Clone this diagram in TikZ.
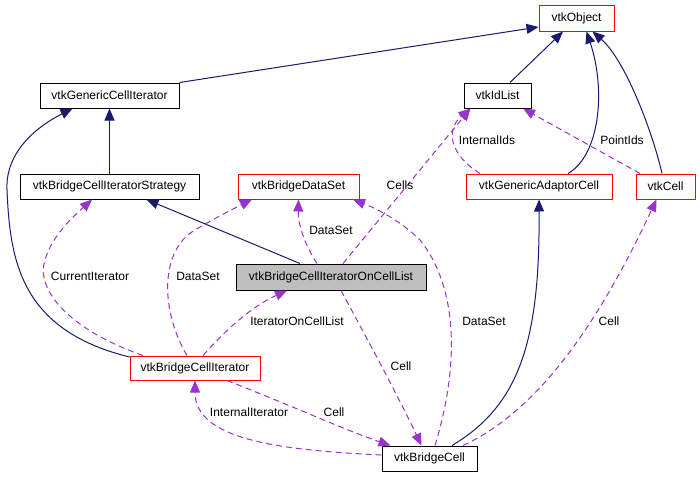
\documentclass[tikz,border=0pt]{standalone}
\usepackage{fontspec}
\setmainfont{Liberation Sans}
\usetikzlibrary{arrows.meta}
\definecolor{navy}{HTML}{191970}
\definecolor{purp}{HTML}{9A32CD}
\definecolor{redb}{HTML}{FF0000}
\definecolor{grayf}{HTML}{BFBFBF}
\begin{document}
\begin{tikzpicture}[x=1pt,y=-1pt,
  box/.style={draw=black,line width=1pt,inner sep=0pt,minimum height=25pt,font=\fontsize{12}{14}\selectfont},
  redbox/.style={box,draw=redb},
  inh/.style={draw=navy,line width=1pt,-{Triangle[length=12pt,width=10pt]}},
  usearrow/.style={draw=purp,line width=1pt,dash pattern=on 6pt off 4pt,-{Triangle[length=12pt,width=10pt]}},
  lbl/.style={font=\fontsize{12}{14}\selectfont,inner sep=0pt}]
\useasboundingbox[fill=white] (0,0) rectangle (700,477);

% nodes
\node[redbox,minimum width=75pt,minimum height=26pt] (obj) at (576.5,18) {vtkObject};
\node[box,minimum width=139pt] (gci) at (109.5,95.5) {vtkGenericCellIterator};
\node[box,minimum width=67pt] (idl) at (497.5,95.5) {vtkIdList};
\node[box,minimum width=179pt] (strat) at (109.5,186.5) {vtkBridgeCellIteratorStrategy};
\node[redbox,minimum width=121pt] (bds) at (298.5,186.5) {vtkBridgeDataSet};
\node[redbox,minimum width=146pt] (gac) at (539,186.5) {vtkGenericAdaptorCell};
\node[redbox,minimum width=59pt] (cell) at (665.5,186.5) {vtkCell};
\node[box,fill=grayf,minimum width=190pt,minimum height=26pt] (ocl) at (331,277) {vtkBridgeCellIteratorOnCellList};
\node[redbox,minimum width=130pt,minimum height=24pt] (bci) at (195,368) {vtkBridgeCellIterator};
\node[box,minimum width=95pt] (bc) at (429.5,458.5) {vtkBridgeCell};

% inheritance
\draw[inh] (gci.north east) -- ([yshift=-9pt]obj.west);
\draw[inh] ([xshift=12.5pt]idl.north) -- ([xshift=-13.5pt]obj.south);
\draw[inh] ([xshift=29pt]gac.north) .. controls (600,155) and (606,90) .. ([xshift=10pt]obj.south);
\draw[inh] ([xshift=-3.5pt]cell.north) .. controls (652,130) and (625,60) .. ([xshift=16pt]obj.south);
\draw[inh] (strat.north) -- (gci.south);
\draw[inh] ([yshift=11pt]bci.west) .. controls (20,330) and (10,260) .. (7,190)
   .. controls (5,150) and (40,125) .. ([xshift=-37pt]gci.south);
\draw[inh] ([xshift=-31pt]ocl.north) -- ([xshift=37pt]strat.south);
\draw[inh] ([xshift=22.5pt]bc.north) .. controls (520,405) and (540,340) .. (gac.south);

% usage
\draw[usearrow] ([xshift=12pt]ocl.north) -- ([xshift=-27pt]idl.south);
\node[lbl] (lcells) at (400,185) {Cells};
\draw[usearrow] ([xshift=-59pt]gac.north) .. controls (450,155) and (445,130) .. ([xshift=-27pt]idl.south);
\node[lbl] (lints) at (487,140) {InternalIds};
\draw[usearrow] ([xshift=-25.5pt]cell.north) -- ([xshift=25.5pt]idl.south);
\node[lbl] (lpts) at (622,140) {PointIds};
\draw[usearrow] ([xshift=-14pt]ocl.north) .. controls (305,245) and (298,225) .. (bds.south);
\node[lbl] (lds1) at (331,230) {DataSet};
\draw[usearrow] ([xshift=-8pt]bci.north) .. controls (160,310) and (160,250) .. (195,230)
   .. controls (215,218) and (235,208) .. ([xshift=-46.5pt]bds.south);
\node[lbl] (lds2) at (198,276) {DataSet};
\draw[usearrow] ([xshift=-52pt]bci.north) .. controls (70,330) and (35,290) .. (45,260)
   .. controls (52,235) and (75,215) .. ([xshift=-17.5pt]strat.south);
\node[lbl] (lcur) at (90,276) {CurrentIterator};
\draw[usearrow] ([xshift=8pt]bci.north) .. controls (230,325) and (255,305) .. ([xshift=-44pt]ocl.south);
\node[lbl] (liocl) at (297,321) {IteratorOnCellList};
\draw[usearrow] ([xshift=5.5pt]bc.north) .. controls (458,370) and (460,290) .. (420,240)
   .. controls (400,220) and (375,208) .. ([xshift=54.5pt]bds.south);
\node[lbl] (lds3) at (484,321) {DataSet};
\draw[usearrow] ([xshift=10pt]ocl.south) .. controls (365,335) and (395,390) .. ([xshift=-8pt]bc.north);
\node[lbl] (lcell1) at (401,366) {Cell};
\draw[usearrow] ([xshift=32pt]bci.south) .. controls (290,405) and (345,430) .. ([xshift=-39pt]bc.north);
\node[lbl] (lcell2) at (334,412) {Cell};
\draw[usearrow] ([yshift=3.5pt]bc.west) .. controls (280,450) and (195,440) .. (bci.south);
\node[lbl] (lii) at (249,412) {InternalIterator};
\draw[usearrow] ([xshift=33.5pt]bc.north) .. controls (540,410) and (600,320) .. ([xshift=-9pt]cell.south);
\node[lbl] (lcell3) at (609,321) {Cell};
\end{tikzpicture}
\end{document}
